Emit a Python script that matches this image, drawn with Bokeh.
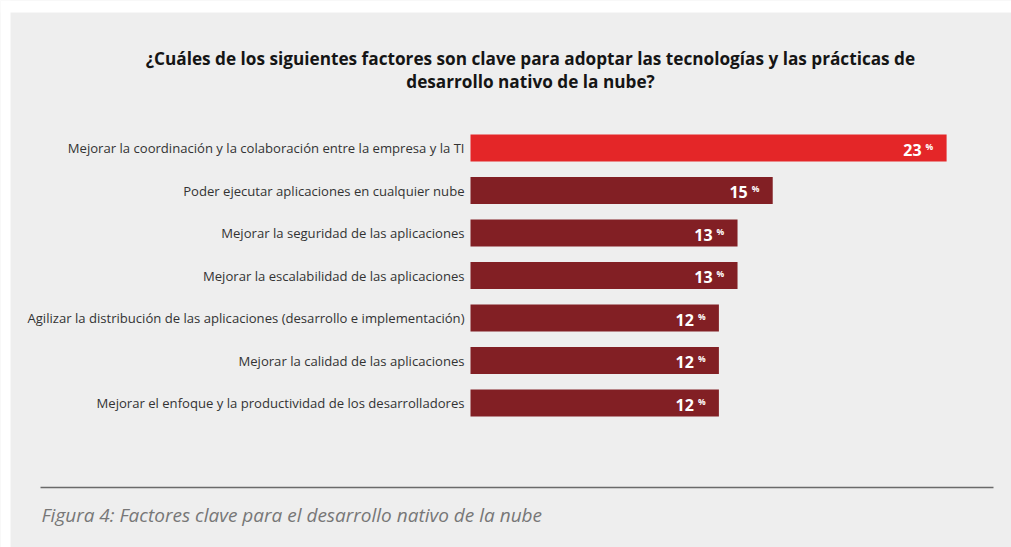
from bokeh.plotting import figure
from bokeh.models import Range1d
from bokeh.core.properties import value
from bokeh.embed import file_html
from bokeh.resources import INLINE

categories = [
    "Mejorar la coordinación y la colaboración entre la empresa y la TI",
    "Poder ejecutar aplicaciones en cualquier nube",
    "Mejorar la seguridad de las aplicaciones",
    "Mejorar la escalabilidad de las aplicaciones",
    "Agilizar la distribución de las aplicaciones (desarrollo e implementación)",
    "Mejorar la calidad de las aplicaciones",
    "Mejorar el enfoque y la productividad de los desarrolladores",
]
values = [23, 14.6, 12.9, 12.9, 12.0, 12.0, 12.0]
value_labels = ["23", "15", "13", "13", "12", "12", "12"]
bar_colors = ["#e42628", "#821f24", "#821f24", "#821f24", "#821f24", "#821f24", "#821f24"]
title_lines = [
    "¿Cuáles de los siguientes factores son clave para adoptar las tecnologías y las prácticas de",
    "desarrollo nativo de la nube?",
]
caption = "Figura 4: Factores clave para el desarrollo nativo de la nube"

W, H = 1011, 547
PX = 20.7      # pixels per percentage point
X0 = 470.0     # pixel of the zero line
ROW = 42.5     # pixels per row
Y0 = 147.5     # pixel of first row centre

def dx(px):
    return (px - X0) / PX

def dy(py):
    return (py - Y0) / ROW

p = figure(width=W, height=H, output_backend="svg", toolbar_location=None,
           x_range=Range1d(dx(0), dx(W)), y_range=Range1d(dy(H), dy(0)),
           x_axis_type=None, y_axis_type=None, min_border=0,
           background_fill_color="#eeeeee", border_fill_color="#eeeeee",
           outline_line_color=None)
p.grid.visible = False

# white page edges around the grey panel
p.quad(left=[dx(0), dx(0)], right=[dx(W), dx(10)], top=[dy(0), dy(0)], bottom=[dy(12), dy(H)],
       fill_color="white", line_color=None)

rows = list(range(len(categories)))

p.hbar(y=rows, left=0, right=values, height=27 / ROW, fill_color=bar_colors, line_color=None)

p.text(x=dx(X0 - 6), y=rows, text=categories, text_align="right", text_baseline="middle",
       text_font=value("Open Sans"), text_font_size="13.1px", text_color="#333333")

p.text(x=values, y=rows, text=value_labels, x_offset=-25, y_offset=1.5,
       text_align="right", text_baseline="middle",
       text_font=value("Open Sans"), text_font_style="bold", text_font_size="16px",
       text_color="white")
p.text(x=values, y=rows, text=["%"] * len(rows), x_offset=-21, y_offset=-7.5,
       text_align="left", text_baseline="top",
       text_font=value("Open Sans"), text_font_style="bold", text_font_size="8.5px",
       text_color="white")

p.text(x=[dx(530)] * 2, y=[dy(58), dy(81)], text=title_lines, text_align="center",
       text_baseline="middle", text_font=value("Open Sans"), text_font_style="bold",
       text_font_size="17.2px", text_color="#151515")

p.segment(x0=[dx(40)], y0=[dy(487)], x1=[dx(993)], y1=[dy(487)],
          line_color="#6a6a6a", line_width=1.3)

p.text(x=[dx(41)], y=[dy(514)], text=[caption], text_align="left", text_baseline="middle",
       text_font=value("Open Sans"), text_font_style="italic", text_font_size="19px",
       text_color="#777777")

open("out.html", "w").write(file_html(p, INLINE))
